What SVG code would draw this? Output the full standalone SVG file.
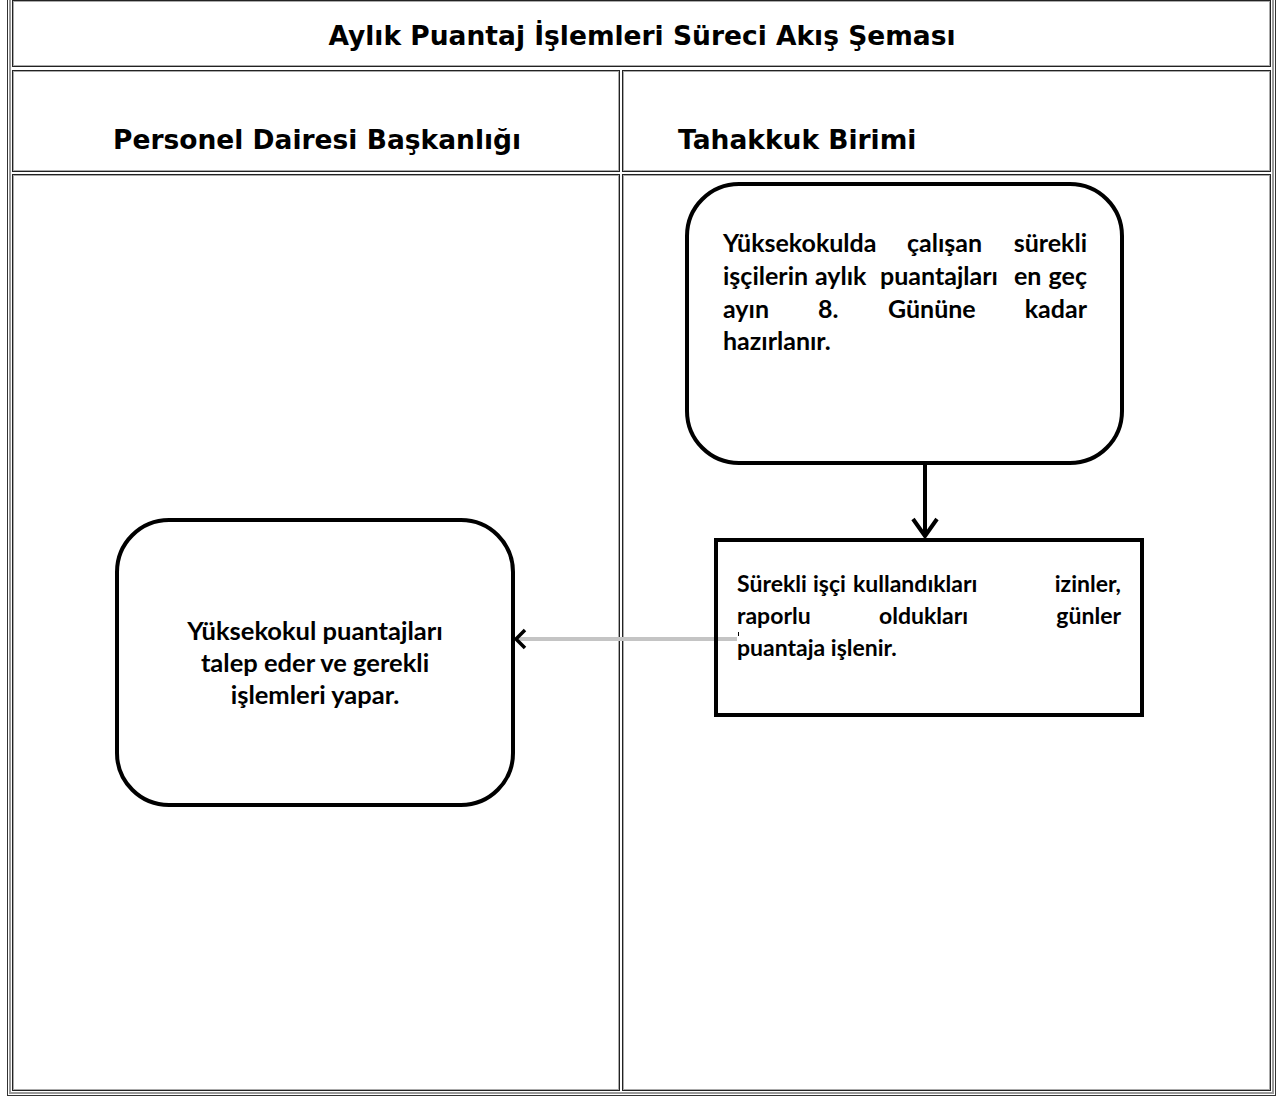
<svg xmlns="http://www.w3.org/2000/svg" width="1283" height="1097" viewBox="0 0 1283 1097">
<style>
.frame-o{fill:none;stroke:#333;stroke-width:1}
.frame-g{fill:none;stroke:#999;stroke-width:2}
.cell-o{fill:none;stroke:#222;stroke-width:1}
.cell-g{fill:none;stroke:#aaa;stroke-width:1}
.hdr{font-family:"DejaVu Sans",Verdana,sans-serif;font-weight:bold;font-size:26.5px;fill:#000}
.txt{font-family:Lato,"Open Sans",sans-serif;font-weight:bold;font-size:25px;fill:#000}
.t2{font-size:23px}
.t3{font-size:25.5px}
.box{fill:#fff;stroke:#000;stroke-width:4}
.arr{fill:none;stroke:#000;stroke-width:4}
</style>
<defs>
<filter id="sh" x="-10%" y="-300%" width="120%" height="700%">
<feGaussianBlur stdDeviation="2"/>
</filter>
</defs>
<rect width="1283" height="1097" fill="#fff"/>
<g id="table">
<rect class="frame-o" x="7.5" y="-2" width="1268" height="1097.5"/>
<rect class="frame-g" x="10" y="-2" width="1263" height="1095"/>
<rect class="cell-o" x="12.5" y="0.5" width="1258" height="66"/>
<rect class="cell-g" x="13.5" y="1.5" width="1256" height="64"/>
<rect class="cell-o" x="12.5" y="70.5" width="607" height="101"/>
<rect class="cell-g" x="13.5" y="71.5" width="605" height="99"/>
<rect class="cell-o" x="622.5" y="70.5" width="648" height="101"/>
<rect class="cell-g" x="623.5" y="71.5" width="646" height="99"/>
<rect class="cell-o" x="12.5" y="174.5" width="607" height="916"/>
<rect class="cell-g" x="13.5" y="175.5" width="605" height="914"/>
<rect class="cell-o" x="622.5" y="174.5" width="648" height="916"/>
<rect class="cell-g" x="623.5" y="175.5" width="646" height="914"/>
<text class="hdr" x="642" y="45" text-anchor="middle">Aylık Puantaj İşlemleri Süreci Akış Şeması</text>
<text class="hdr" x="113" y="149">Personel Dairesi Başkanlığı</text>
<text class="hdr" x="678" y="149">Tahakkuk Birimi</text>
</g>
<g id="node1">
<rect class="box" x="687" y="184" width="435" height="279" rx="52"/>
<text class="txt" y="252"><tspan x="723">Yüksekokulda</tspan><tspan x="907">çalışan</tspan><tspan x="1087" text-anchor="end">sürekli</tspan></text>
<text class="txt" y="285"><tspan x="723">işçilerin</tspan><tspan x="815">aylık</tspan><tspan x="880">puantajları</tspan><tspan x="1014">en</tspan><tspan x="1087" text-anchor="end">geç</tspan></text>
<text class="txt" y="318"><tspan x="723">ayın</tspan><tspan x="818">8.</tspan><tspan x="888">Gününe</tspan><tspan x="1087" text-anchor="end">kadar</tspan></text>
<text class="txt" x="723" y="350">hazırlanır.</text>
</g>
<g id="node2">
<rect class="box" x="716" y="540" width="426" height="175" style="fill:none"/>
<text class="txt t2" y="592"><tspan x="737">Sürekli</tspan><tspan x="813">işçi</tspan><tspan x="853">kullandıkları</tspan><tspan x="1121" text-anchor="end">izinler,</tspan></text>
<text class="txt t2" y="624"><tspan x="737">raporlu</tspan><tspan x="879">oldukları</tspan><tspan x="1121" text-anchor="end">günler</tspan></text>
<text class="txt t2" x="737" y="656">puantaja işlenir.</text>
</g>
<g id="node3">
<rect class="box" x="117" y="520" width="396" height="285" rx="52"/>
<text class="txt t3" x="315" y="640" text-anchor="middle">Yüksekokul puantajları</text>
<text class="txt t3" x="315" y="672" text-anchor="middle">talep eder ve gerekli</text>
<text class="txt t3" x="315" y="704" text-anchor="middle">işlemleri yapar.</text>
</g>
<g id="connectors">
<line class="arr" x1="925" y1="465" x2="925" y2="536"/>
<polyline class="arr" points="913,519 925,536 937,519"/>
<line x1="518" y1="642" x2="736" y2="642" stroke="#777" stroke-width="6" filter="url(#sh)" opacity="0.6"/>
<line x1="517" y1="639" x2="714" y2="639" stroke="#c4c4c4" stroke-width="4"/>
<line x1="718" y1="639" x2="737" y2="639" stroke="#c4c4c4" stroke-width="4"/>
<polyline points="525,630 516,639 525,648" fill="none" stroke="#000" stroke-width="3.5"/>
<line x1="738.5" y1="632" x2="738.5" y2="636" stroke="#000" stroke-width="1"/>
</g>
</svg>
